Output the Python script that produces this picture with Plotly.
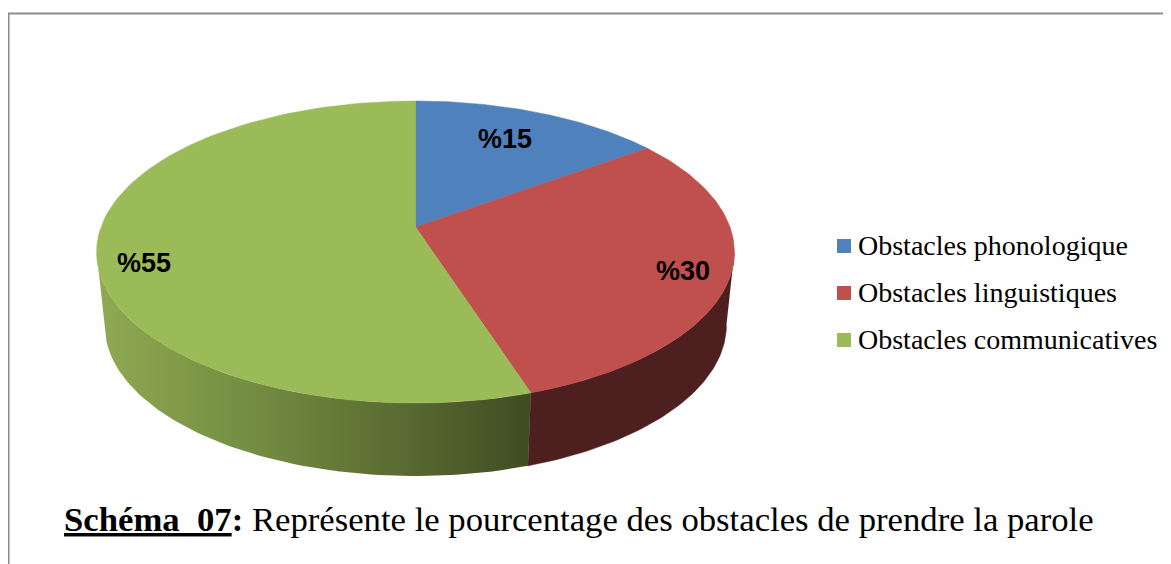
import numpy as np
import plotly.graph_objects as go

# Data
categories = ['Obstacles phonologique', 'Obstacles linguistiques', 'Obstacles communicatives']
values = [15, 30, 55]
labels = ['%15', '%30', '%55']
colors = ['#4f81bd', '#c0504d', '#9bbb59']

# Pie drawn in window pixel coordinates, with a perspective tilt.
# The page body has an 8px margin, so the axes start at 8.
CX, CY = 415.5, 227
A, B, K = 314.5, 146.9, 0.1656
DEPTH = 73
BOTTOM_SCALE = 0.975
TANGENT = np.degrees(np.arccos(-K))  # angle where the rim turns behind the pie


def project(theta, r=1.0):
    t = np.radians(theta)
    w = 1 + K * r * np.cos(t)
    return CX + A * r * np.sin(t) / w, CY - B * r * np.cos(t) / w


def side_shape(start, end):
    t = np.linspace(start, end, 80)
    x, y = project(t)
    xb = CX + (x - CX) * BOTTOM_SCALE
    yb = y + DEPTH
    return np.r_[x, xb[::-1]], np.r_[y, yb[::-1]]


bounds = np.cumsum([0] + values) * 3.6

fig = go.Figure()

# Side walls, under the top face
x, y = side_shape(max(bounds[1], TANGENT), bounds[2])
fig.add_trace(go.Scatter(x=x, y=y, mode='lines', fill='toself', fillcolor='#4d1f1f',
                         line=dict(color='#4d1f1f', width=0.5), hoverinfo='skip'))
x, y = side_shape(bounds[2], min(bounds[3], 360 - TANGENT))
fig.add_trace(go.Scatter(
    x=x, y=y, mode='lines', fill='toself', line=dict(width=0), hoverinfo='skip',
    fillgradient=dict(type='horizontal', colorscale=[
        [0, '#8fa953'], [0.35, '#748e42'], [0.7, '#5a6b32'], [1, '#3f4c22']]),
))

# Top face
for i, cat in enumerate(categories):
    t = np.linspace(bounds[i], bounds[i + 1], 120)
    ex, ey = project(t)
    fig.add_trace(go.Scatter(
        x=np.r_[CX, ex, CX], y=np.r_[CY, ey, CY],
        mode='lines', fill='toself', fillcolor=colors[i],
        line=dict(color=colors[i], width=0.5), name=cat,
        hovertemplate=f'{cat}: {values[i]}%<extra></extra>',
    ))

# Value labels: radius along the slice, then a small nudge
label_r = [0.7, 0.87, 0.85]
label_nudge = [(-1, -5), (-5, 3), (-2, 16)]
for i, lab in enumerate(labels):
    lx, ly = project((bounds[i] + bounds[i + 1]) / 2, label_r[i])
    fig.add_annotation(x=lx, y=ly, text=f'<b>{lab}</b>', showarrow=False,
                       xshift=label_nudge[i][0], yshift=-label_nudge[i][1],
                       font=dict(family='Liberation Sans', size=27, color='black'))

# Legend
legend_y = [246, 293, 340]
for cat, col, ly in zip(categories, colors, legend_y):
    fig.add_trace(go.Scatter(x=[844], y=[ly], mode='markers', hoverinfo='skip',
                             marker=dict(symbol='square', size=14, color=col)))
    fig.add_annotation(x=858, y=ly - 1, text=cat, showarrow=False, xanchor='left',
                       xshift=-2, font=dict(family='Liberation Serif', size=28, color='black'))

# Caption
fig.add_annotation(x=64, y=519, xanchor='left', xshift=-2, showarrow=False,
                   text='<b><u>Schéma\u00a0\u00a007</u>:</b> Représente le pourcentage des obstacles de prendre la parole',
                   font=dict(family='Liberation Serif', size=34.7, color='black'))

# Frame
fig.add_shape(type='line', x0=8.75, x1=8.75, y0=13.5, y1=564, line=dict(color='#8c8c8c', width=1.5))
fig.add_shape(type='line', x0=8, x1=1171, y0=13.5, y1=13.5, line=dict(color='#8c8c8c', width=2))

fig.update_layout(
    width=1163, height=556, margin=dict(l=0, r=0, t=0, b=0),
    paper_bgcolor='white', plot_bgcolor='white', showlegend=False,
    xaxis=dict(range=[8, 1171], visible=False, fixedrange=True),
    yaxis=dict(range=[564, 8], visible=False, fixedrange=True),
)

fig.write_html("out.html")
